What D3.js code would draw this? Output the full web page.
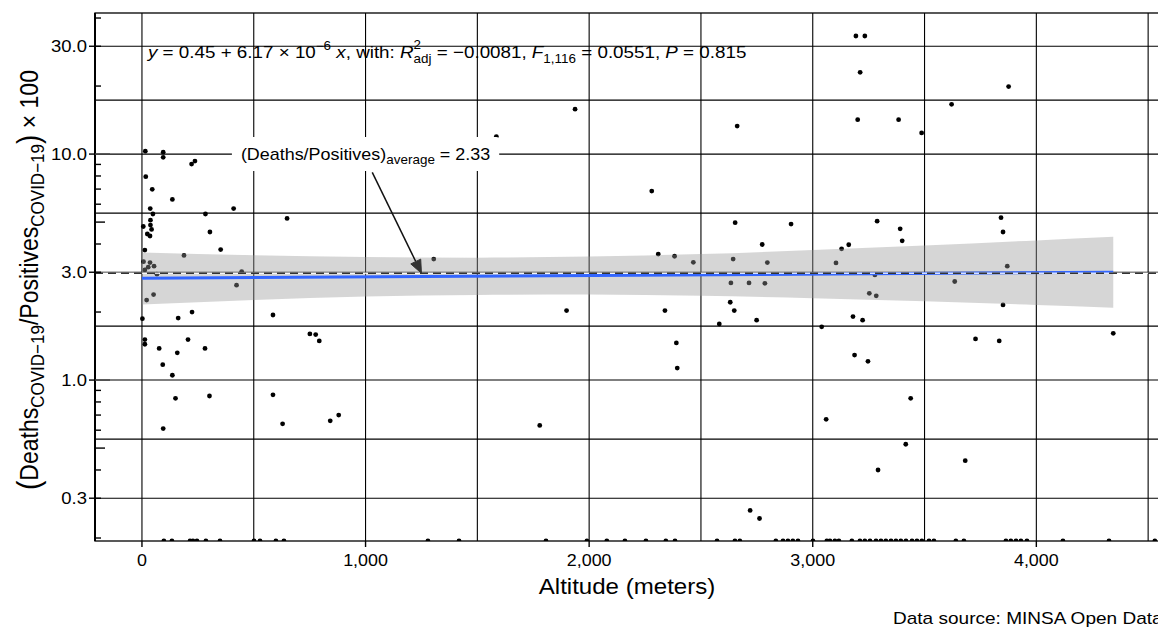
<!DOCTYPE html>
<html>
<head>
<meta charset="utf-8">
<script src="https://cdn.jsdelivr.net/npm/d3@7"></script>
<style>
  body { margin: 0; background: #fff; }
  text { font-family: "Liberation Sans", Arial, Helvetica, sans-serif; white-space: pre; }
</style>
</head>
<body>
<svg id="chart" width="1158" height="627"></svg>
<script>
// ---- data ----
var altitude = [15,95,95,222,237,17,46,136,37,49,6,38,38,43,24,36,13,284,304,410,649,352,188,7,36,54,28,13,67,446,423,52,21,1305,586,2,162,224,751,777,793,13,13,77,158,206,282,93,136,586,150,302,629,95,842,880,1779,1585,1937,2662,2280,1899,2309,2382,2466,2653,2774,2644,2797,2634,2715,2786,2339,2631,2649,2749,2582,2390,2394,2720,2762,3193,3233,3212,3201,3384,3487,3621,3876,2903,3288,3391,3400,3129,3161,3104,3278,3253,3284,3180,3223,3040,3187,3247,3438,3842,3851,3870,3635,3851,3728,3834,4344,3060,3416,3292,3682];
var ratio = [10.3,10.2,9.67,9.03,9.31,7.94,6.98,6.30,5.74,5.43,4.78,5.10,4.85,4.64,4.43,4.34,3.76,5.43,4.52,5.74,5.19,3.78,3.56,3.34,3.31,3.19,3.16,3.07,2.94,3.02,2.63,2.39,2.26,3.43,1.94,1.87,1.88,2.00,1.60,1.59,1.49,1.51,1.44,1.38,1.32,1.51,1.38,1.17,1.05,0.86,0.83,0.85,0.64,0.61,0.66,0.70,0.63,11.95,15.8,13.3,6.86,2.03,3.61,3.53,3.32,4.97,3.98,3.43,3.31,2.69,2.69,2.68,2.03,2.21,2.03,1.84,1.77,1.46,1.13,0.265,0.244,33.3,33.3,23.0,14.2,14.2,12.4,16.6,19.9,4.90,5.05,4.67,4.13,3.81,3.97,3.30,2.92,2.42,2.36,1.91,1.84,1.72,1.29,1.21,0.83,5.23,4.52,3.19,2.73,2.15,1.52,1.49,1.61,0.67,0.52,0.40,0.44];
// provinces with zero deaths (drawn on the bottom edge, like -Inf on a log scale)
var zeroAltitude = [98,134,215,228,246,286,349,501,528,599,635,1279,1418,1807,1990,2079,2160,2254,2343,2384,2572,2652,2674,2835,2867,2889,2911,2934,3001,3063,3077,3099,3117,3175,3211,3233,3256,3283,3305,3327,3350,3372,3394,3417,3444,3466,3488,3520,3542,3640,3676,3864,3886,3909,3931,3958,4119,4325,4530];

// fitted line and its confidence band
var fitAltitude = [0, 4344];
var fitRatio = [2.82, 3.00];
var ciAltitude = [0, 500, 1000, 1500, 2000, 2500, 3000, 3500, 4000, 4344];
var ciLow  = [2.16, 2.26, 2.34, 2.38, 2.39, 2.36, 2.30, 2.23, 2.15, 2.09];
var ciHigh = [3.67, 3.57, 3.50, 3.48, 3.52, 3.61, 3.76, 3.94, 4.15, 4.31];

var refRatio = 2.97;                 // dashed reference line
var labelAt = [1000, 10];            // average label
var arrowFrom = [1030, 8.3];
var arrowTo = [1250, 2.97];

var xBreaks = [0, 1000, 2000, 3000, 4000];
var xMinor = [500, 1500, 2500, 3500, 4500];
var yBreaks = [0.3, 1, 3, 10, 30];
var yTickLabels = ["0.3", "1.0", "3.0", "10.0", "30.0"];

// ---- layout ----
var SX = 1.12; // glyphs in the picture are a bit wider than Arial
var svg = d3.select("#chart");
var P = {left: 95, top: 13, right: 1162, bottom: 541};

var x = d3.scaleLinear().domain([-210, 4562]).range([P.left, P.right]);
var y = d3.scaleLog().domain([0.194, 42.1]).range([P.bottom, P.top]);

var yMinor = [];
for (var i = 0; i < yBreaks.length - 1; i++) yMinor.push(Math.sqrt(yBreaks[i] * yBreaks[i + 1]));
yMinor.push(Math.sqrt(yBreaks[yBreaks.length - 1] * yBreaks[yBreaks.length - 1] * 10));

svg.append("defs").append("clipPath").attr("id", "panel")
  .append("rect").attr("x", P.left).attr("y", P.top)
  .attr("width", P.right - P.left).attr("height", P.bottom - P.top);

var panel = svg.append("g").attr("clip-path", "url(#panel)");

// grid (major and minor drawn the same)
panel.selectAll("line.gx").data(xBreaks.concat(xMinor)).enter().append("line")
  .attr("x1", function(d){ return x(d); }).attr("x2", function(d){ return x(d); })
  .attr("y1", P.top).attr("y2", P.bottom)
  .attr("stroke", "#000").attr("stroke-width", 1.1);
panel.selectAll("line.gy").data(yBreaks.concat(yMinor)).enter().append("line")
  .attr("x1", P.left).attr("x2", P.right)
  .attr("y1", function(d){ return y(d); }).attr("y2", function(d){ return y(d); })
  .attr("stroke", "#000").attr("stroke-width", 1.1);

// points
var pts = altitude.map(function(a, i){ return [a, ratio[i]]; })
  .concat(zeroAltitude.map(function(a){ return [a, 0]; }));
panel.selectAll("circle.pt").data(pts).enter().append("circle")
  .attr("cx", function(d){ return x(d[0]); })
  .attr("cy", function(d){ return d[1] > 0 ? y(d[1]) : P.bottom; })
  .attr("r", 2.4).attr("fill", "#000");

// confidence band
var band = ciAltitude.map(function(a, i){ return {a: a, lo: ciLow[i], hi: ciHigh[i]}; });
panel.append("path").datum(band)
  .attr("d", d3.area().curve(d3.curveMonotoneX)
    .x(function(d){ return x(d.a); })
    .y0(function(d){ return y(d.lo); })
    .y1(function(d){ return y(d.hi); }))
  .attr("fill", "#999").attr("fill-opacity", 0.4);

// fitted line
panel.append("path").datum(fitAltitude.map(function(a, i){ return [a, fitRatio[i]]; }))
  .attr("d", d3.line().x(function(d){ return x(d[0]); }).y(function(d){ return y(d[1]); }))
  .attr("stroke", "#3366FF").attr("stroke-width", 3).attr("fill", "none");

// dashed reference line
panel.append("line").attr("x1", P.left).attr("x2", P.right)
  .attr("y1", y(refRatio)).attr("y2", y(refRatio))
  .attr("stroke", "#fff").attr("stroke-opacity", 0.8).attr("stroke-width", 1.5);
panel.append("line").attr("x1", P.left).attr("x2", P.right)
  .attr("y1", y(refRatio)).attr("y2", y(refRatio))
  .attr("stroke", "#333").attr("stroke-width", 1.6).attr("stroke-dasharray", "8,5");

// arrow
var ax0 = x(arrowFrom[0]), ay0 = y(arrowFrom[1]), ax1 = x(arrowTo[0]), ay1 = y(arrowTo[1]);
var ang = Math.atan2(ay1 - ay0, ax1 - ax0), hl = 13, hw = 5.5;
var bx = ax1 - hl * Math.cos(ang), by = ay1 - hl * Math.sin(ang);
panel.append("line").attr("x1", ax0).attr("y1", ay0).attr("x2", bx).attr("y2", by)
  .attr("stroke", "#111").attr("stroke-width", 1.5);
panel.append("path")
  .attr("d", "M" + ax1 + "," + ay1 +
    "L" + (bx + hw * Math.sin(ang)) + "," + (by - hw * Math.cos(ang)) +
    "L" + (bx - hw * Math.sin(ang)) + "," + (by + hw * Math.cos(ang)) + "Z")
  .attr("fill", "#333").attr("stroke", "#333").attr("stroke-width", 1);

// rich text helper: segments placed one after another
function rich(parent, segs, o) {
  var g = parent.append("g");
  var inner = g.append("g");
  var cx = 0, held = 0;
  segs.forEach(function(s){
    var t = inner.append("text").attr("x", cx).attr("y", s.dy || 0)
      .attr("font-size", s.size || o.size)
      .attr("font-style", s.it ? "italic" : null)
      .attr("fill", "#000").text(s.t);
    var w = t.node().getComputedTextLength();
    if (s.hold) { held = Math.max(held, w); }
    else { cx += Math.max(w, held); held = 0; }
  });
  var shift = o.anchor === "middle" ? -cx / 2 : (o.anchor === "end" ? -cx : 0);
  inner.attr("transform", "translate(" + shift + ",0)");
  g.attr("transform", "translate(" + o.x + "," + o.y + ") scale(" + SX + ",1)" + (o.rotate ? " rotate(" + o.rotate + ")" : ""));
  return cx * SX;
}

// average label with white box
var lab = svg.append("g");
var lbox = lab.append("rect").attr("fill", "#fff").attr("rx", 3);
var lw = rich(lab, [
  {t: "(Deaths/Positives)"},
  {t: "average", size: 12, dy: 4},
  {t: " = 2.33"}
], {x: x(labelAt[0]), y: y(labelAt[1]) + 6, size: 16, anchor: "middle"});
lbox.attr("x", x(labelAt[0]) - lw / 2 - 9).attr("width", lw + 18)
  .attr("y", y(labelAt[1]) - 17).attr("height", 34);

// equation
rich(svg, [
  {t: "y", it: true},
  {t: " = 0.45 + 6.17 \u00d7 10"},
  {t: "\u22126", size: 12, dy: -8},
  {t: " "},
  {t: "x", it: true},
  {t: ", with: "},
  {t: "R", it: true},
  {t: "2", size: 12, dy: -9, hold: true},
  {t: "adj", size: 12, dy: 5},
  {t: " = \u22120.0081, "},
  {t: "F", it: true},
  {t: "1,116", size: 12, dy: 5},
  {t: " = 0.0551, "},
  {t: "P", it: true},
  {t: " = 0.815"}
], {x: 148, y: 58, size: 16.8});

// panel border
svg.append("rect").attr("x", P.left).attr("y", P.top)
  .attr("width", P.right - P.left).attr("height", P.bottom - P.top)
  .attr("fill", "none").attr("stroke", "#000").attr("stroke-width", 1.3);
svg.append("line").attr("x1", P.left).attr("x2", P.left).attr("y1", P.top).attr("y2", P.bottom)
  .attr("stroke", "#000").attr("stroke-width", 2);

// log ticks inside left edge
var logTicks = [];
[0.1, 1, 10].forEach(function(dec){
  for (var k = 1; k <= 9; k++) {
    var v = dec * k;
    if (v >= y.domain()[0] && v <= y.domain()[1]) logTicks.push({v: v, len: k === 1 ? 15 : (k === 5 ? 10 : 6)});
  }
});
svg.selectAll("line.lt").data(logTicks).enter().append("line")
  .attr("x1", P.left).attr("x2", function(d){ return P.left + d.len; })
  .attr("y1", function(d){ return y(d.v); }).attr("y2", function(d){ return y(d.v); })
  .attr("stroke", function(d){ return d.len === 15 ? "#444" : "#000"; }).attr("stroke-width", 1.4);

// axes
svg.selectAll("line.ytk").data(yBreaks).enter().append("line")
  .attr("x1", P.left - 6).attr("x2", P.left)
  .attr("y1", function(d){ return y(d); }).attr("y2", function(d){ return y(d); })
  .attr("stroke", "#000").attr("stroke-width", 1.4);
yBreaks.forEach(function(d, i){
  svg.append("g").attr("transform", "translate(" + (P.left - 8) + "," + (y(d) + 6) + ") scale(" + SX + ",1)")
    .append("text").attr("text-anchor", "end").attr("font-size", 16.5).text(yTickLabels[i]);
});
svg.selectAll("line.xtk").data(xBreaks).enter().append("line")
  .attr("x1", function(d){ return x(d); }).attr("x2", function(d){ return x(d); })
  .attr("y1", P.bottom).attr("y2", P.bottom + 6)
  .attr("stroke", "#000").attr("stroke-width", 1.4);
var fmt = d3.format(",");
xBreaks.forEach(function(d){
  svg.append("g").attr("transform", "translate(" + x(d) + "," + 566 + ") scale(" + SX + ",1)")
    .append("text").attr("text-anchor", "middle").attr("font-size", 16).text(fmt(d));
});

// titles
svg.append("g").attr("transform", "translate(627,594) scale(" + SX + ",1)")
  .append("text").attr("text-anchor", "middle").attr("font-size", 21.5).text("Altitude (meters)");

rich(svg, [
  {t: "(", size: 28, dy: 1},
  {t: "Deaths"},
  {t: "COVID\u221219", size: 17, dy: 5},
  {t: "/Positives"},
  {t: "COVID\u221219", size: 17, dy: 5},
  {t: ")", size: 28, dy: 1},
  {t: " \u00d7 100"}
], {x: 38, y: 280, size: 23, anchor: "middle", rotate: -90});

svg.append("g").attr("transform", "translate(893,624) scale(" + SX + ",1)")
  .append("text").attr("font-size", 17).text("Data source: MINSA Open Data");
</script>
</body>
</html>
